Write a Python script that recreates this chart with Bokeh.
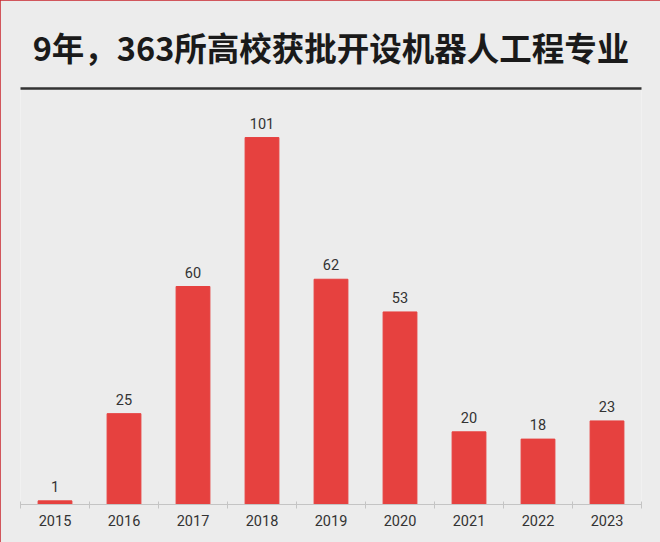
from bokeh.plotting import figure
from bokeh.models import ColumnDataSource, LabelSet, FixedTicker, LinearAxis, Range1d, Title
from bokeh.core.properties import value
from bokeh.embed import file_html
from bokeh.resources import INLINE

years = ["2015", "2016", "2017", "2018", "2019", "2020", "2021", "2022", "2023"]
counts = [1, 25, 60, 101, 62, 53, 20, 18, 23]
title_text = "9年，363所高校获批开设机器人工程专业"

BG = "#ececec"
BAR = "#e6413f"

pos = [i + 0.5 for i in range(len(years))]
src = ColumnDataSource(dict(x=pos, y=counts, label=[str(c) for c in counts]))

p = figure(width=660, height=542, output_backend="svg", toolbar_location=None,
           x_range=Range1d(0, len(years)), y_range=Range1d(0, 114.5),
           min_border_left=20, min_border_right=19, min_border_top=88, min_border_bottom=38)
p.background_fill_color = BG
p.border_fill_color = BG
p.outline_line_color = None
p.grid.visible = False
p.yaxis.visible = False

p.vbar(x="x", top="y", width=0.49, source=src, color=BAR)
p.add_layout(LabelSet(x="x", y="y", text="label", source=src, text_align="center",
                      text_baseline="bottom", y_offset=9, text_font_size="14.5px",
                      text_color="#333333", text_font=value("Roboto")))

xa = p.xaxis[0]
xa.ticker = FixedTicker(ticks=pos, minor_ticks=list(range(len(years) + 1)))
xa.major_label_overrides = {p_: y for p_, y in zip(pos, years)}
xa.major_tick_line_color = None
xa.minor_tick_line_color = "#c4c4c4"
xa.minor_tick_in = 3
xa.minor_tick_out = 4
xa.axis_line_color = "#c4c4c4"
xa.major_label_text_font_size = "14.5px"
xa.major_label_text_color = "#333333"
xa.major_label_text_font = "Roboto"
xa.major_label_standoff = 4

top_axis = LinearAxis(ticker=FixedTicker(ticks=[]), axis_line_color="#333333",
                      axis_line_width=2.5, major_label_text_font_size="0px",
                      major_tick_line_color=None, minor_tick_line_color=None)
p.add_layout(top_axis, "above")

p.title = Title(text=title_text, text_font="Noto Sans CJK SC", text_font_size="32.5px",
                text_font_style="bold", text_color="#1a1a1a", align="center",
                standoff=38, offset=0)
p.styles = {"outline": "3px solid #c8252c", "outline-offset": "-3px"}

open("out.html", "w").write(file_html(p, INLINE))
